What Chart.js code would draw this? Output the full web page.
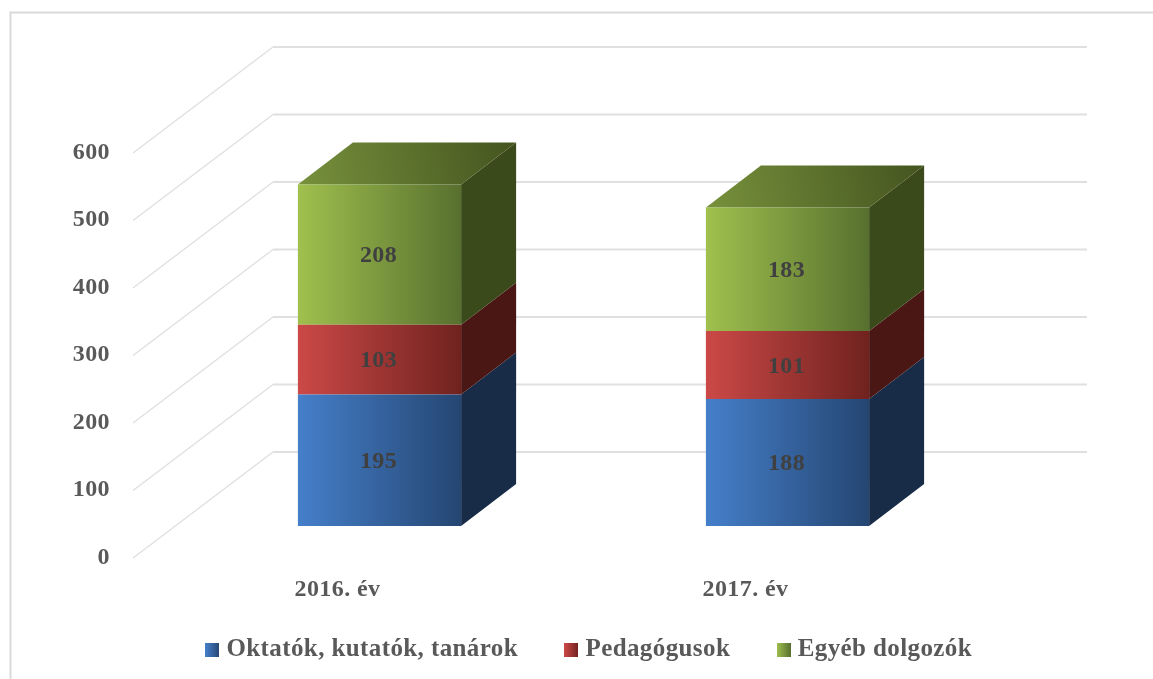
<!DOCTYPE html>
<html>
<head>
<meta charset="utf-8">
<style>
  html, body { margin: 0; padding: 0; background: #fff; }
  canvas { display: block; }
</style>
<script src="https://cdn.jsdelivr.net/npm/chart.js@4/dist/chart.umd.min.js"></script>
</head>
<body>
<canvas id="chart" width="1153" height="679"></canvas>
<script>
(() => {
  const categories = ['2016. év', '2017. év'];
  const oktatok = [195, 188];
  const pedagogusok = [103, 101];
  const egyeb = [208, 183];
  const seriesNames = ['Oktatók, kutatók, tanárok', 'Pedagógusok', 'Egyéb dolgozók'];

  const FONT = '"Liberation Serif", serif';
  const BAR_SHARE = 0.4;
  const DEPTH_X = 55; // how far the bars go back
  const DEPTH_Y = -42;

  // [left of front, right of front, side face]
  const shades = [
    ['#457fca', '#254672', '#182c48'],
    ['#cb4947', '#70221f', '#4a1715'],
    ['#a0c04e', '#58702f', '#3b4a1a']
  ];

  const ctx = document.getElementById('chart').getContext('2d');

  const frontGradient = (target, x0, x1, i) => {
    const g = target.createLinearGradient(x0, 0, x1, 0);
    g.addColorStop(0, shades[i][0]);
    g.addColorStop(1, shades[i][1]);
    return g;
  };

  const barFill = (i) => (c) => {
    const x = c.chart.scales.x;
    if (!x || !x.width || c.dataIndex === undefined) return shades[i][0];
    const w = x.width / categories.length * BAR_SHARE;
    const centre = x.getPixelForValue(c.dataIndex);
    return frontGradient(ctx, centre - w / 2, centre + w / 2, i);
  };

  // legend swatch as a small picture, so it can carry the gradient
  const swatch = (i) => {
    const box = document.createElement('canvas');
    box.width = 14;
    box.height = 14;
    const boxCtx = box.getContext('2d');
    boxCtx.fillStyle = frontGradient(boxCtx, 0, 14, i);
    boxCtx.fillRect(0, 0, 14, 14);
    return box;
  };

  const polygon = (points, fill) => {
    ctx.beginPath();
    points.forEach(([x, y], n) => (n ? ctx.lineTo(x, y) : ctx.moveTo(x, y)));
    ctx.closePath();
    ctx.fillStyle = fill;
    ctx.fill();
  };

  const textSpacing = {
    id: 'textSpacing',
    beforeLayout: (chart) => { chart.ctx.letterSpacing = '0.4px'; },
    beforeDraw: (chart) => { chart.ctx.letterSpacing = '0.4px'; }
  };

  // the year labels sit lower than the axis box, keep them out of its clip
  const yearLabelClip = {
    id: 'yearLabelClip',
    afterLayout: (chart) => { chart.scales.x.bottom = chart.scales.x.top + 95; }
  };

  const room = {
    id: 'room',
    beforeDatasetsDraw: (chart) => {
      const { chartArea: area, scales: { y } } = chart;
      const left = area.left - 42.5;
      const corner = area.left + 97.5;
      const right = area.right + 95.5;

      ctx.save();
      ctx.strokeStyle = '#dadada';
      ctx.lineWidth = 2;
      ctx.beginPath();
      ctx.moveTo(10.5, 679);
      ctx.lineTo(10.5, 12.5);
      ctx.lineTo(1153, 12.5);
      ctx.stroke();

      y.ticks.forEach((tick) => {
        const py = y.getPixelForValue(tick.value);
        ctx.strokeStyle = '#e0e0e0';
        ctx.lineWidth = 1.5;
        ctx.beginPath();
        ctx.moveTo(left, py + 32);
        ctx.lineTo(corner, py - 74);
        ctx.stroke();
        ctx.lineWidth = 2.2;
        ctx.beginPath();
        ctx.moveTo(corner, py - 74);
        ctx.lineTo(right, py - 74);
        ctx.stroke();
      });

      chart.data.datasets.forEach((ds, i) => {
        chart.getDatasetMeta(i).data.forEach((bar) => {
          const r = bar.x + bar.width / 2;
          polygon([
            [r, bar.y], [r + DEPTH_X, bar.y + DEPTH_Y],
            [r + DEPTH_X, bar.base + DEPTH_Y], [r, bar.base]
          ], shades[i][2]);
        });
      });

      const last = chart.data.datasets.length - 1;
      chart.getDatasetMeta(last).data.forEach((bar) => {
        const l = bar.x - bar.width / 2;
        const r = bar.x + bar.width / 2;
        const g = ctx.createLinearGradient(l, bar.y, r + DEPTH_X, bar.y + DEPTH_Y);
        g.addColorStop(0, '#77913c');
        g.addColorStop(1, '#44541f');
        polygon([
          [l, bar.y], [l + DEPTH_X, bar.y + DEPTH_Y],
          [r + DEPTH_X, bar.y + DEPTH_Y], [r, bar.y]
        ], g);
      });
      ctx.restore();
    }
  };

  const barValues = {
    id: 'barValues',
    afterDatasetsDraw: (chart) => {
      ctx.save();
      ctx.font = `bold 24px ${FONT}`;
      ctx.fillStyle = '#404040';
      ctx.textAlign = 'center';
      ctx.textBaseline = 'middle';
      chart.data.datasets.forEach((ds, i) => {
        chart.getDatasetMeta(i).data.forEach((bar, j) => {
          ctx.fillText(ds.data[j], bar.x - 1, (bar.y + bar.base) / 2 + 1.5);
        });
      });
      ctx.restore();
    }
  };

  new Chart(ctx, {
    type: 'bar',
    data: {
      labels: categories,
      datasets: [
        { label: seriesNames[0], data: oktatok, backgroundColor: barFill(0), pointStyle: swatch(0) },
        { label: seriesNames[1], data: pedagogusok, backgroundColor: barFill(1), pointStyle: swatch(1) },
        { label: seriesNames[2], data: egyeb, backgroundColor: barFill(2), pointStyle: swatch(2) }
      ]
    },
    plugins: [textSpacing, room, barValues, yearLabelClip],
    options: {
      responsive: false,
      animation: false,
      barPercentage: BAR_SHARE,
      categoryPercentage: 1,
      layout: { padding: { left: 30, right: 0, top: 121, bottom: 6.5 } },
      scales: {
        x: {
          stacked: true,
          grid: { display: false, drawTicks: false },
          border: { display: false },
          ticks: {
            labelOffset: -42,
            padding: 49,
            color: '#595959',
            font: { family: FONT, size: 24, weight: 'bold' }
          },
          afterFit: (scale) => { scale.height = 59.5; }
        },
        y: {
          stacked: true,
          min: 0,
          max: 600,
          grid: { display: false, drawTicks: false },
          border: { display: false },
          ticks: {
            stepSize: 100,
            labelOffset: 31.5,
            padding: 65.5,
            color: '#595959',
            font: { family: FONT, size: 24, weight: 'bold' }
          },
          afterFit: (scale) => { scale.width = 145.5; }
        },
        spacer: {
          position: 'right',
          grid: { display: false, drawTicks: false },
          border: { display: false },
          ticks: { display: false },
          afterFit: (scale) => { scale.width = 161.5; }
        }
      },
      plugins: {
        tooltip: { enabled: false },
        legend: {
          position: 'bottom',
          labels: {
            usePointStyle: true,
            pointStyleWidth: 3,
            boxHeight: 14,
            padding: 52,
            color: '#595959',
            font: { family: FONT, size: 25, weight: 'bold' }
          }
        }
      }
    }
  });
})();
</script>
</body>
</html>
